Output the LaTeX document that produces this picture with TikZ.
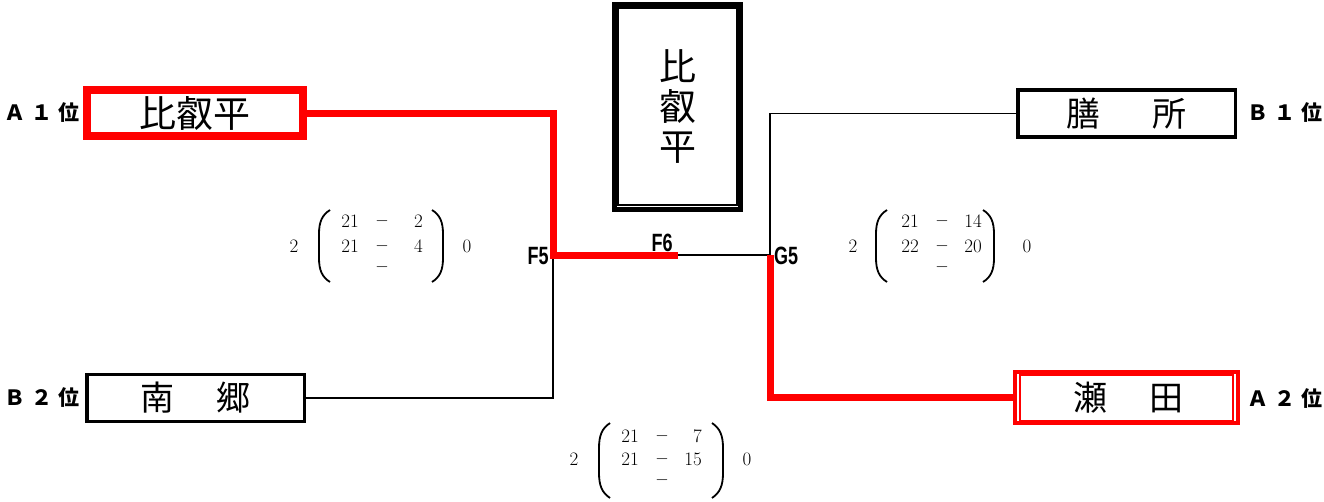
\documentclass[tikz,border=0pt]{standalone}
\usepackage{fontspec}
\newfontfamily\jp{Noto Sans CJK JP}
\newfontfamily\labf{Liberation Sans}[FakeStretch=0.72]
\begin{document}
\begin{tikzpicture}[x=1pt,y=-1pt,
  redline/.style={draw=red, line width=7pt, line join=miter},
  thinline/.style={draw=black, line width=1.2pt},
  namebox/.style={draw, line width=3.5pt, inner sep=0pt, minimum width=217.5pt, minimum height=47pt,
    font=\jp\fontsize{34}{34}\selectfont},
  rank/.style={inner sep=0pt, font=\jp\bfseries\fontsize{21}{21}\selectfont},
  game/.style={inner sep=0pt, font=\labf\bfseries\fontsize{25}{25}\selectfont},
  score/.style={inner sep=0pt, font=\fontsize{19}{19}\selectfont},
  lp/.pic={\draw[line width=1.8pt] (11,-36) .. controls (3,-31) and (0,-24) .. (0,-12) -- (0,12) .. controls (0,24) and (3,31) .. (11,36);}
]
\useasboundingbox (0,0) rectangle (1324,501);

% team boxes
\node[namebox, draw=red, line width=7.5pt, minimum width=216pt, minimum height=46pt,
  font=\jp\fontsize{37}{37}\selectfont] (hiei) at (195,113) {比叡平};
\node[namebox] (nango) at (195.5,398) {南\hspace{42pt}郷};
\node[namebox] (zeze) at (1126.5,113.5) {膳\hspace{52pt}所};
\node[namebox, draw=red, minimum width=223pt, minimum height=51pt] (seta) at (1126.5,397.5) {\hspace{4pt}瀬\hspace{42pt}田};
\draw[red, line width=2pt] ([shift={(7,4.5)}]seta.north west) rectangle ([shift={(-7,-3.5)}]seta.south east);

% champion box
\node[draw, line width=4.5pt, minimum width=126pt, minimum height=205pt, inner sep=0pt, align=center,
  font=\jp\fontsize{37}{40}\selectfont] (champ) at (677.5,107) {比\\叡\\平};
\draw[line width=2.2pt] ([shift={(6,6)}]champ.north west) rectangle ([shift={(-6,-6.5)}]champ.south east);

% rank labels
\node[rank] (r1) at (42,113) {Ａ\hspace{6pt}１\hspace{6pt}位};
\node[rank] (r2) at (42,398) {Ｂ\hspace{6pt}２\hspace{6pt}位};
\node[rank] (r3) at (1285,113) {Ｂ\hspace{6pt}１\hspace{6pt}位};
\node[rank] (r4) at (1285,399) {Ａ\hspace{6pt}２\hspace{6pt}位};

% junctions
\coordinate (f5) at (553,255);
\coordinate (f6) at (678,255);
\coordinate (g5) at (770,255);
\node[game] (lf5) at (538,256) {F5};
\node[game] (lf6) at (662,243) {F6};
\node[game] (lg5) at (786,256) {G5};

% connectors
\draw[thinline] (nango.east) -| (f5);
\draw[thinline] (f6) -- (g5);
\draw[thinline] (zeze.west) -| (g5);
\draw[redline] (hiei.east) -| (f5) -- (f6);
\draw[redline] (g5) |- (seta.west);

% score: left
\node[score] (a0) at (294,246) {2};
\node[score] (a1) at (350,221) {21};
\node[score] (a2) at (382,221) {$-$};
\node[score, anchor=east] (a3) at (423,221) {2};
\node[score] (a4) at (350,246) {21};
\node[score] (a5) at (382,246) {$-$};
\node[score, anchor=east] (a6) at (423,246) {4};
\node[score] (a7) at (382,267) {$-$};
\node[score] (a8) at (467,246) {0};
\pic at (319,246) {lp};
\pic[xscale=-1] at (443,246) {lp};

% score: right
\node[score] (b0) at (853,246) {2};
\node[score] (b1) at (910,221) {21};
\node[score] (b2) at (942,221) {$-$};
\node[score, anchor=east] (b3) at (982,221) {14};
\node[score] (b4) at (910,246) {22};
\node[score] (b5) at (942,246) {$-$};
\node[score, anchor=east] (b6) at (982,246) {20};
\node[score] (b7) at (942,267) {$-$};
\node[score] (b8) at (1027,246) {0};
\pic at (876,246) {lp};
\pic[xscale=-1] at (994,246) {lp};

% score: bottom
\node[score] (c0) at (574,459) {2};
\node[score] (c1) at (630,436) {21};
\node[score] (c2) at (662,436) {$-$};
\node[score, anchor=east] (c3) at (702,436) {7};
\node[score] (c4) at (630,459) {21};
\node[score] (c5) at (662,459) {$-$};
\node[score, anchor=east] (c6) at (702,459) {15};
\node[score] (c7) at (662,480) {$-$};
\node[score] (c8) at (747,459) {0};
\pic[yscale=1.04] at (599,460.5) {lp};
\pic[xscale=-1, yscale=1.04] at (723,460.5) {lp};
\end{tikzpicture}
\end{document}
